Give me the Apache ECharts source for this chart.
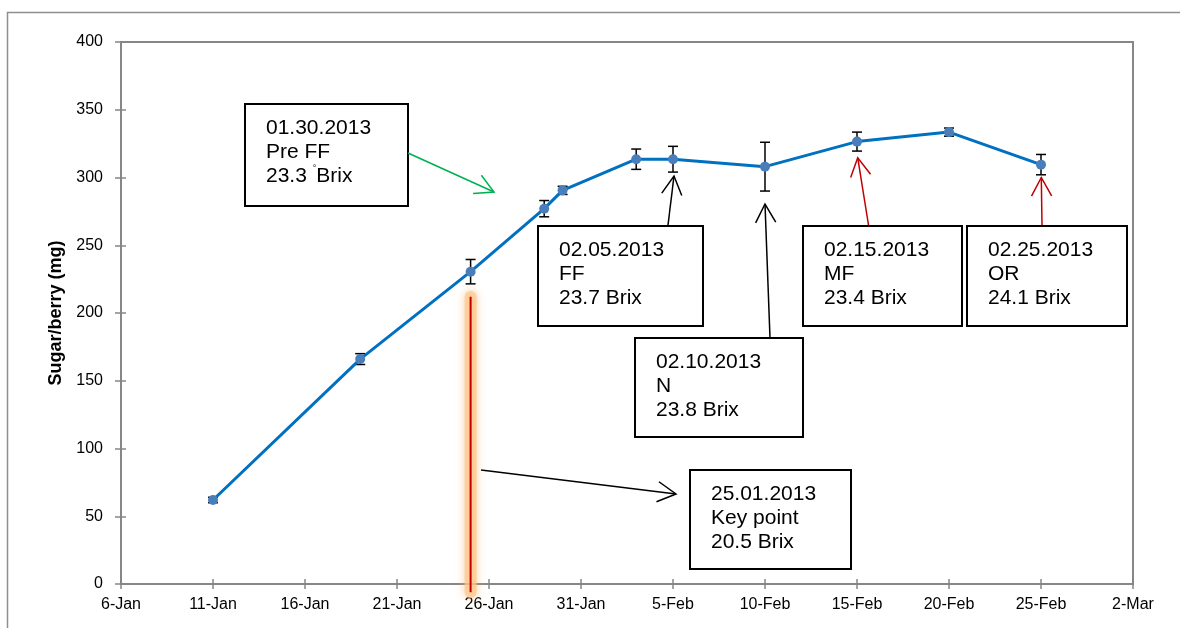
<!DOCTYPE html>
<html>
<head>
<meta charset="utf-8">
<title>Sugar per berry</title>
<style>
  html, body { margin: 0; padding: 0; background: #fff; }
  #chart { width: 1180px; height: 628px; }
</style>
</head>
<body>
<div id="chart"></div>
<script src="https://cdn.jsdelivr.net/npm/echarts@6/dist/echarts.min.js"></script>
<script>
// sampling dates and sugar per berry (mg), with error bar half-widths
var sampleDates = ['2013-01-11', '2013-01-19', '2013-01-25', '2013-01-29', '2013-01-30', '2013-02-03',
                   '2013-02-05', '2013-02-10', '2013-02-15', '2013-02-20', '2013-02-25'];
var sugarMg  = [62, 166, 230.5, 277, 290.5, 313.5, 313.5, 308, 326.5, 333.5, 309.5];
var sugarErr = [2, 4, 9, 6, 3, 7.5, 9.5, 18, 7, 3, 7.5];

// x ticks every 5 days, 6-Jan .. 2-Mar
var xTickLabels = ['6-Jan', '11-Jan', '16-Jan', '21-Jan', '26-Jan', '31-Jan', '5-Feb', '10-Feb', '15-Feb', '20-Feb', '25-Feb', '2-Mar'];
var xFirst = '2013-01-06', xLast = '2013-03-02';

// key point marker line (25 Jan): from, to in mg
var keyDate = '2013-01-25';
var keyRange = [212, -6];

// annotation texts
var notePreFF = ['01.30.2013', 'Pre FF', '23.3 {d|°}Brix'];
var noteFF    = ['02.05.2013', 'FF', '23.7 Brix'];
var noteN     = ['02.10.2013', 'N', '23.8 Brix'];
var noteMF    = ['02.15.2013', 'MF', '23.4 Brix'];
var noteOR    = ['02.25.2013', 'OR', '24.1 Brix'];
var noteKey   = ['25.01.2013', 'Key point', '20.5 Brix'];

function dayNo(s) {
	var p = s.split('-');
	return (Date.UTC(+p[0], +p[1] - 1, +p[2]) - Date.UTC(2013, 0, 1)) / 86400000;
}

var xMin = dayNo(xFirst), xMax = dayNo(xLast);
var lineData = sampleDates.map(function (d, i) { return [dayNo(d), sugarMg[i]]; });
var errData = sampleDates.map(function (d, i) { return [dayNo(d), sugarMg[i] - sugarErr[i], sugarMg[i] + sugarErr[i]]; });

var font = '"Liberation Sans", Arial, sans-serif';
var axisGray = '#878787';

function noteBox(x, y, w, h, lines) {
	return {
		type: 'group', x: x, y: y, z: 100,
		children: [
			{ type: 'rect', shape: { x: 0, y: 0, width: w, height: h },
			  style: { fill: '#fff', stroke: '#000', lineWidth: 2 } },
			{ type: 'text', x: 21, y: 12,
			  style: { text: lines.join('\n'), font: '21px ' + font, lineHeight: 24, fill: '#000',
			           verticalAlign: 'top',
			           rich: { d: { fontSize: 9, verticalAlign: 'top', lineHeight: 24, padding: [0, 0, 14, 0] } } } }
		]
	};
}

function arrow(x1, y1, x2, y2, color) {
	var a = Math.atan2(y2 - y1, x2 - x1), L = 21, h = 0.5;
	return {
		type: 'group', z: 100,
		children: [
			{ type: 'line', shape: { x1: x1, y1: y1, x2: x2, y2: y2 }, style: { stroke: color, lineWidth: 1.5 } },
			{ type: 'polyline',
			  shape: { points: [[x2 - L * Math.cos(a - h), y2 - L * Math.sin(a - h)], [x2, y2],
			                    [x2 - L * Math.cos(a + h), y2 - L * Math.sin(a + h)]] },
			  style: { stroke: color, lineWidth: 1.5, fill: null } }
		]
	};
}

var myChart = echarts.init(document.getElementById('chart'));

var option = {
	animation: false,
	backgroundColor: '#fff',
	grid: {
		left: 121, top: 42, width: 1012, height: 542,
		show: true, borderColor: axisGray, borderWidth: 2, backgroundColor: 'transparent'
	},
	xAxis: [
		{
			type: 'value', min: xMin, max: xMax, interval: 5,
			axisLine: { show: true, onZero: false, lineStyle: { color: axisGray, width: 2 } },
			axisTick: { show: true, length: 5, lineStyle: { color: axisGray, width: 1.5 } },
			axisLabel: {
				color: '#000', fontSize: 16, fontFamily: font, margin: 13,
				formatter: function (v) { return xTickLabels[Math.round((v - xMin) / 5)]; }
			},
			splitLine: { show: false }
		},
		{
			type: 'value', position: 'bottom', min: xMin, max: xMax, interval: 5,
			axisLine: { show: false },
			axisTick: { show: true, inside: true, length: 5, lineStyle: { color: axisGray, width: 1.5 } },
			axisLabel: { show: false },
			splitLine: { show: false }
		}
	],
	yAxis: [
		{
			type: 'value', min: 0, max: 400, interval: 50,
			name: 'Sugar/berry (mg)', nameLocation: 'middle', nameGap: 56,
			nameTextStyle: { color: '#000', fontWeight: 'bold', fontSize: 18, fontFamily: font },
			axisLine: { show: true, onZero: false, lineStyle: { color: axisGray, width: 2 } },
			axisTick: { show: true, length: 6, lineStyle: { color: axisGray, width: 1.5 } },
			axisLabel: { color: '#000', fontSize: 16, fontFamily: font, margin: 18 },
			splitLine: { show: false }
		},
		{
			type: 'value', position: 'left', min: 0, max: 400, interval: 50,
			axisLine: { show: false },
			axisTick: { show: true, inside: true, length: 5, lineStyle: { color: axisGray, width: 1.5 } },
			axisLabel: { show: false },
			splitLine: { show: false }
		}
	],
	series: [
		{
			name: 'error',
			type: 'custom',
			z: 1,
			clip: false,
			data: errData,
			renderItem: function (params, api) {
				var lo = api.coord([api.value(0), api.value(1)]);
				var hi = api.coord([api.value(0), api.value(2)]);
				var cw = 5;
				var st = { stroke: '#000', lineWidth: 1.5 };
				return {
					type: 'group',
					children: [
						{ type: 'line', shape: { x1: lo[0], y1: lo[1], x2: hi[0], y2: hi[1] }, style: st },
						{ type: 'line', shape: { x1: lo[0] - cw, y1: lo[1], x2: lo[0] + cw, y2: lo[1] }, style: st },
						{ type: 'line', shape: { x1: hi[0] - cw, y1: hi[1], x2: hi[0] + cw, y2: hi[1] }, style: st }
					]
				};
			}
		},
		{
			name: 'Sugar/berry',
			type: 'line',
			z: 2,
			data: lineData,
			symbol: 'circle',
			symbolSize: 10,
			itemStyle: { color: '#4A7EBB' },
			lineStyle: { color: '#0070C0', width: 3 }
		},
		{
			name: 'key point',
			type: 'custom',
			z: 3,
			clip: false,
			data: [[dayNo(keyDate), keyRange[0], keyRange[1]]],
			renderItem: function (params, api) {
				var a = api.coord([api.value(0), api.value(1)]);
				var b = api.coord([api.value(0), api.value(2)]);
				var shape = { x1: a[0], y1: a[1], x2: b[0], y2: b[1] };
				return {
					type: 'group',
					children: [
						{ type: 'line', shape: shape,
						  style: { stroke: 'rgba(253,200,140,0.7)', lineWidth: 12, lineCap: 'round',
						           shadowBlur: 8, shadowColor: 'rgba(252,170,90,0.8)' } },
						{ type: 'line', shape: shape, style: { stroke: '#C00000', lineWidth: 2 } }
					]
				};
			}
		}
	],
	graphic: [
		{ type: 'rect', z: 0, silent: true, shape: { x: 7.5, y: 12.5, width: 1300, height: 700 },
		  style: { fill: null, stroke: '#8f8f8f', lineWidth: 1.5 } },
		noteBox(245, 104, 163, 102, notePreFF),
		noteBox(538, 226, 165, 100, noteFF),
		noteBox(635, 338, 168, 99, noteN),
		noteBox(803, 226, 159, 100, noteMF),
		noteBox(967, 226, 160, 100, noteOR),
		noteBox(690, 470, 161, 99, noteKey),
		arrow(408, 153, 494, 192, '#00B050'),
		arrow(668, 225, 674, 176, '#000'),
		arrow(770, 338, 765, 204, '#000'),
		arrow(868.5, 225, 857.7, 157.7, '#C00000'),
		arrow(1042, 225, 1041.3, 177.5, '#C00000'),
		arrow(481, 470, 676, 494, '#000')
	]
};

myChart.setOption(option);
</script>
</body>
</html>
